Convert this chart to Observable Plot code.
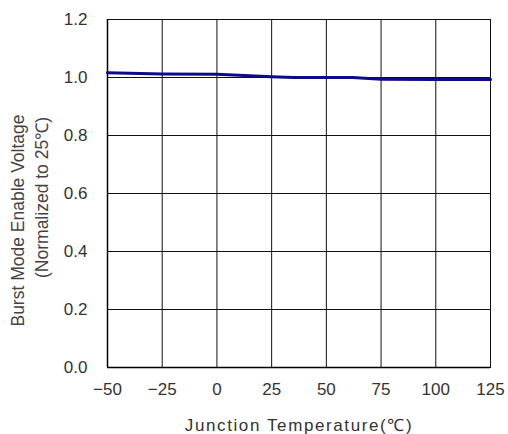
<!DOCTYPE html>
<html><head><meta charset="utf-8">
<script src="https://cdn.jsdelivr.net/npm/d3@7"></script>
<script src="https://cdn.jsdelivr.net/npm/@observablehq/plot@0.6"></script>
<style>
html,body{margin:0;padding:0;background:#fff;}
svg{font-family:"Liberation Sans",Arial,sans-serif;}
</style>
</head><body>
<div id="chart"></div>
<script>
const temps = [-50, -25, 0, 25, 35, 50, 62, 75, 100, 125];
const values = [1.016, 1.012, 1.011, 1.003, 1.0, 1.0, 1.0, 0.994, 0.993, 0.993];
const xTicks = [-50, -25, 0, 25, 50, 75, 100, 125];
const yTicks = [0, 0.2, 0.4, 0.6, 0.8, 1.0, 1.2];
const xLabel = "Junction Temperature(℃)";
const yLabel1 = "Burst Mode Enable Voltage";
const yLabel2 = "(Normalized to 25℃)";

const data = temps.map((t, i) => ({t, v: values[i]}));

const chart = Plot.plot({
  width: 508,
  height: 434,
  marginLeft: 107,
  marginRight: 18,
  marginTop: 19,
  marginBottom: 67,
  style: {fontFamily: "Liberation Sans, Arial, sans-serif", fontSize: "17px", color: "#333", background: "#fff"},
  x: {domain: [-50, 125], ticks: xTicks},
  y: {domain: [0, 1.2], ticks: yTicks},
  marks: [
    Plot.gridX(xTicks, {stroke: "#111", strokeOpacity: 1, strokeWidth: 1}),
    Plot.gridY(yTicks, {stroke: "#111", strokeOpacity: 1, strokeWidth: 1}),
    Plot.frame({stroke: "#111", strokeWidth: 1}),
    Plot.ruleX([-50], {stroke: "#000", strokeWidth: 1.5}),
    Plot.ruleY([0], {stroke: "#000", strokeWidth: 1.5}),
    Plot.axisX(xTicks, {tickSize: 0, tickPadding: 15, label: null, fill: "#333",
      tickFormat: d => d < 0 ? "\u2212" + Math.abs(d) : String(d)}),
    Plot.axisY(yTicks, {tickSize: 0, tickPadding: 20, label: null, fill: "#333",
      tickFormat: d3.format(".1f")}),
    Plot.line(data, {x: "t", y: "v", stroke: "#0a0a8c", strokeWidth: 3}),
    Plot.text([xLabel], {frameAnchor: "bottom", dy: 58, lineAnchor: "middle", fill: "#333", fontSize: 17}),
    Plot.text([yLabel1], {frameAnchor: "left", rotate: -90, dx: -89, dy: 27, lineAnchor: "middle", textAnchor: "middle", fill: "#444", fontSize: 17.5}),
    Plot.text([yLabel2], {frameAnchor: "left", rotate: -90, dx: -65, dy: 4, lineAnchor: "middle", textAnchor: "middle", fill: "#444", fontSize: 17.5})
  ]
});
d3.select(chart).selectAll("text").filter(function() { return this.textContent === xLabel; })
  .style("letter-spacing", "1.6px");
document.getElementById("chart").appendChild(chart);
</script>
</body></html>
